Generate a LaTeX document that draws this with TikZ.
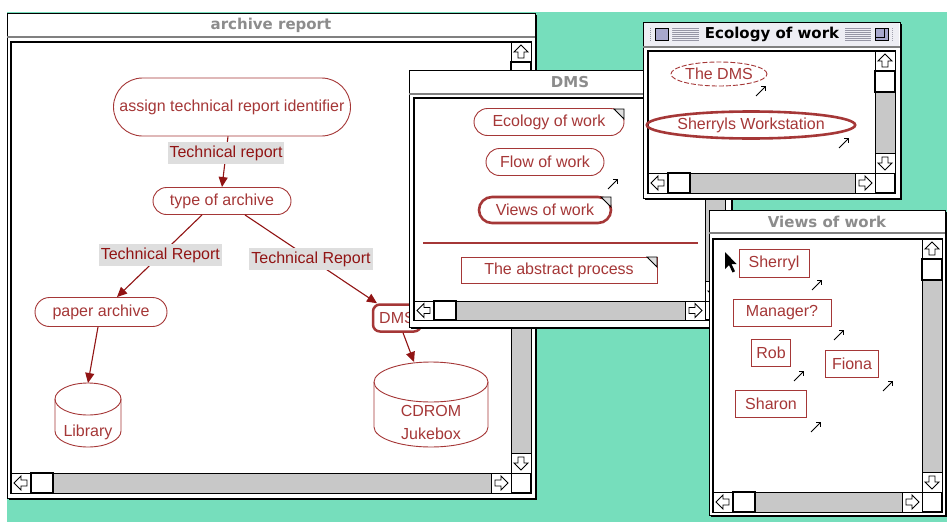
\documentclass[tikz,border=0pt]{standalone}
\usepackage{fontspec}
\setmainfont{Liberation Sans}
\newfontfamily\ttlfont{DejaVu Sans}
\usetikzlibrary{shapes.misc,shapes.geometric,arrows.meta}
\definecolor{teal1}{RGB}{118,222,188}
\definecolor{nred}{RGB}{165,55,55}
\definecolor{ered}{RGB}{145,20,20}
\definecolor{lblg}{RGB}{222,222,222}
\definecolor{stip}{RGB}{200,200,200}
\definecolor{ttlg}{RGB}{140,140,140}
\definecolor{ttlbg}{RGB}{238,238,244}
\definecolor{boxc}{RGB}{168,168,205}
\definecolor{strc}{RGB}{150,150,165}
\newcommand\macwin[5]{%
  \fill (#1+1.5,#2+1.5) rectangle (#3+1.5,#4+1.5);
  \draw[fill=white,line width=1pt] (#1,#2) rectangle (#3,#4);
  \draw[line width=1.2pt,gray] (#1,#5) -- (#3,#5);}
\newcommand\vscr[4]{%
  \draw[fill=stip,line width=0.8pt] (#1,#2) rectangle (#3,#4);
  \draw[fill=white,line width=0.8pt] (#1,#2) rectangle (#3,{#2+20}) (#1,{#4-20}) rectangle (#3,#4);
  \draw[fill=white,line width=1.6pt] (#1,{#2+20}) rectangle (#3,{#2+41});
  \pic at ({(#1+#3)/2},{#2+10}) {uarr};
  \pic at ({(#1+#3)/2},{#4-10}) {darr};}
\newcommand\hscr[4]{%
  \draw[fill=stip,line width=0.8pt] (#1,#2) rectangle (#3,#4);
  \draw[fill=white,line width=0.8pt] (#1,#2) rectangle ({#1+20},#4) ({#3-20},#2) rectangle (#3,#4);
  \draw[fill=white,line width=1.6pt] ({#1+20},#2) rectangle ({#1+42},#4);
  \pic at ({#1+10},{(#2+#4)/2}) {larr};
  \pic at ({#3-10},{(#2+#4)/2}) {rarr};}
\begin{document}
\begin{tikzpicture}[x=1pt,y=-1pt,
  ntxt/.style={font=\fontsize{16}{18}\selectfont, text=nred, inner sep=0pt},
  stad/.style={ntxt, draw=nred, line width=0.9pt, rounded corners=#1},
  stad/.default=13.5pt,
  rbox/.style={ntxt, draw=nred, line width=0.9pt, minimum height=27pt},
  lbl/.style={fill=lblg, text=ered, font=\fontsize{16}{18}\selectfont, inner xsep=2pt, inner ysep=3.5pt},
  conn/.style={draw=ered, line width=1.1pt, -{Triangle[length=10pt,width=9pt]}},
  ttl/.style={font=\ttlfont\bfseries\fontsize{15}{17}\selectfont, text=ttlg, inner sep=1pt},
  uarr/.pic={\draw[line width=0.9pt,fill=white] (0,-7)--(7,0)--(3,0)--(3,6)--(-3,6)--(-3,0)--(-7,0)--cycle;},
  darr/.pic={\draw[line width=0.9pt,fill=white] (0,7)--(7,0)--(3,0)--(3,-6)--(-3,-6)--(-3,0)--(-7,0)--cycle;},
  larr/.pic={\draw[line width=0.9pt,fill=white] (-7,0)--(0,-7)--(0,-3)--(6,-3)--(6,3)--(0,3)--(0,7)--cycle;},
  rarr/.pic={\draw[line width=0.9pt,fill=white] (7,0)--(0,-7)--(0,-3)--(-6,-3)--(-6,3)--(0,3)--(0,7)--cycle;},
  nemark/.pic={\draw[line width=0.8pt,-{Straight Barb[length=3pt,width=6pt]}] (-5,5)--(5,-5);},
  fold/.pic={\draw[line width=0.8pt,fill=gray!25] (-10,0)--(0,0)--(0,10)--cycle;}
]
\useasboundingbox (0,0) rectangle (947,522);
\fill[white] (0,0) rectangle (947,522);
\fill[teal1] (7,12) rectangle (947,522);

% ---------- archive report window ----------
\macwin{7}{13}{535}{498}{37}
\node[ttl] (t1) at (271,25) {archive report};
\draw[line width=1.2pt] (11,42) rectangle (531,493);
\vscr{511}{42}{531}{473}
\hscr{11}{473}{511}{493}
\draw[line width=0.8pt] (511,473) rectangle (531,493);

\node[stad=29pt, minimum width=237pt, minimum height=58pt] (assign) at (232,107) {assign technical report identifier};
\node[stad, minimum width=138pt, minimum height=27pt] (tya) at (222,201) {type of archive};
\node[stad=14.5pt, minimum width=132pt, minimum height=29pt] (paper) at (101,312) {paper archive};
\node[ntxt, draw=nred, line width=2.5pt, rounded corners=7pt, minimum width=48pt, minimum height=27pt] (dmsn) at (397,318) {DMS};

% Library cylinder
\draw[nred, line width=0.9pt] (88,399) ellipse [x radius=33, y radius=16];
\draw[nred, line width=0.9pt] (55,399) -- (55,431) arc[start angle=180, end angle=0, x radius=33, y radius=16] -- (121,399);
\node[ntxt] (lib) at (88,432) {Library};
\coordinate (libtop) at (88,383);
% CDROM cylinder
\draw[nred, line width=0.9pt] (431,382) ellipse [x radius=57, y radius=20];
\draw[nred, line width=0.9pt] (374,382) -- (374,427) arc[start angle=180, end angle=0, x radius=57, y radius=20] -- (488,382);
\node[ntxt] (cd1) at (431,411) {CDROM};
\node[ntxt] (cd2) at (431,434) {Jukebox};
\coordinate (cdtop) at (414,362);

\draw[conn] ([xshift=-4pt]assign.south) -- node[lbl,pos=0.33] (l1) {Technical report} (tya.north);
\draw[conn] ([xshift=-20pt]tya.south) -- node[lbl,pos=0.49] (l2) {Technical Report} ([xshift=16pt]paper.north);
\draw[conn] ([xshift=23pt]tya.south) -- node[lbl,pos=0.5] (l3) {Technical Report} ([xshift=-20pt]dmsn.north);
\draw[conn] ([xshift=-3pt]paper.south) -- (libtop);
\draw[conn] ([xshift=6pt]dmsn.south) -- (cdtop);

% ---------- DMS window ----------
\macwin{409}{70}{731}{327}{94}
\node[ttl] (t2) at (570,82) {DMS};
\draw[line width=1.2pt] (414,98) rectangle (725,320);
\vscr{705}{98}{725}{301}
\hscr{414}{301}{705}{320}
\draw[line width=0.8pt] (705,301) rectangle (725,320);

\node[stad, minimum width=150pt, minimum height=27pt] (eco) at (549,122) {Ecology of work};
\pic at (624,109) {fold};
\node[stad, minimum width=118pt, minimum height=27pt] (flow) at (545,162) {Flow of work};
\pic at (613,184) {nemark};
\node[stad=13pt, line width=2.6pt, minimum width=132pt, minimum height=26pt] (views) at (545,210) {Views of work};
\pic at (611,197) {fold};
\draw[nred, line width=2pt] (423,243) -- (698,243);
\node[rbox, minimum width=196pt, minimum height=26pt] (abst) at (559,270) {The abstract process};
\pic at (657,257) {fold};

% ---------- Ecology of work window ----------
\macwin{643}{22}{900}{198}{47}
\fill[ttlbg] (644,23) rectangle (899,46);
\foreach \yy in {28,30,...,40} {\draw[strc, line width=0.8pt] (650,\yy) -- (893,\yy);}
\fill[ttlbg] (651,25) rectangle (672,43) (871,25) rectangle (892,43);
\draw[line width=0.8pt, fill=boxc] (655,28) rectangle (668,40);
\draw[line width=0.8pt, fill=boxc] (875,28) rectangle (888,40);
\draw[line width=0.8pt] (875,28) rectangle (884,37);
\node[ttl, text=black, fill=ttlbg, inner xsep=6pt] (t3) at (772,34) {Ecology of work};
\draw[line width=1.2pt] (648,51) rectangle (895,193);
\vscr{875}{51}{895}{173}
\hscr{648}{173}{875}{193}
\draw[line width=0.8pt] (875,173) rectangle (895,193);

\node[ntxt, draw=nred, line width=0.9pt, dash pattern=on 5pt off 2pt, ellipse, minimum width=96pt, minimum height=24pt] (thedms) at (719,74) {The DMS};
\pic at (761,91) {nemark};
\node[ntxt, draw=nred, line width=2.6pt, ellipse, minimum width=197pt, minimum height=27pt] (sws) at (751,125) {Sherryls Workstation};
\pic at (844,143) {nemark};

% ---------- Views of work window ----------
\macwin{709}{210}{945}{515}{233}
\node[ttl] (t4) at (827,222) {Views of work};
\draw[line width=1.2pt] (713,239) rectangle (942,512);
\vscr{922}{239}{942}{492}
\hscr{713}{492}{922}{512}
\draw[line width=0.8pt] (922,492) rectangle (942,512);

\fill (725,252) -- (725,269) -- (729,265) -- (732.5,272.5) -- (735,271.3) -- (731.5,264) -- (736.5,264) -- cycle;
\node[rbox, minimum width=70pt, minimum height=28pt] (sher) at (774,263) {Sherryl};
\pic at (817,285) {nemark};
\node[rbox, minimum width=98pt] (mgr) at (782,313) {Manager?};
\pic at (839,335) {nemark};
\node[rbox, minimum width=39pt] (rob) at (771,353) {Rob};
\node[rbox, minimum width=53pt] (fiona) at (852,364) {Fiona};
\pic at (799,376) {nemark};
\pic at (888,386) {nemark};
\node[rbox, minimum width=71pt] (sharon) at (771,404) {Sharon};
\pic at (816,427) {nemark};
\end{tikzpicture}
\end{document}
